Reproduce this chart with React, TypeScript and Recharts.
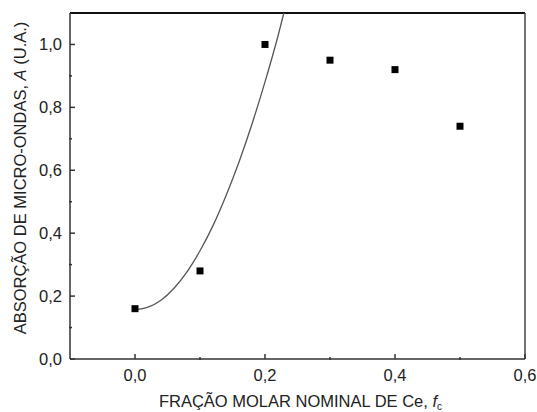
import { ComposedChart, Scatter, Line, XAxis, YAxis, ZAxis, ReferenceLine, Label } from 'recharts';

const fractions = [0.0, 0.1, 0.2, 0.3, 0.4, 0.5];
const absorption = [0.16, 0.28, 1.0, 0.95, 0.92, 0.74];

const fitX = [0, 0.02, 0.04, 0.06, 0.08, 0.1, 0.12, 0.14, 0.16, 0.18, 0.2, 0.22, 0.229];
const fitY = [0.157, 0.165, 0.187, 0.225, 0.277, 0.344, 0.424, 0.519, 0.626, 0.747, 0.881, 1.027, 1.1];

const xMajorTicks = [0, 0.2, 0.4, 0.6];
const xMinorTicks = [0.1, 0.3, 0.5];
const yMajorTicks = [0, 0.2, 0.4, 0.6, 0.8, 1.0];
const yMinorTicks = [0.1, 0.3, 0.5, 0.7, 0.9];

const points = fractions.map((x, i) => ({ x, y: absorption[i] }));
const fit = fitX.map((x, i) => ({ x, y: fitY[i] }));

const fmt = (v: number) => v.toFixed(1).replace('.', ',');
const axisColor = '#333';
const font = '"Liberation Sans", Arial, sans-serif';

// ticks point into the plot, labels sit outside
const BottomTick = ({ x, y, payload, minor }: any) => (
  <g>
    <line x1={x} x2={x} y1={y} y2={y - (minor ? 3 : 5)} stroke={axisColor} strokeWidth={1.5} />
    {!minor && (
      <text x={x} y={y + 22} textAnchor="middle" fill="#222" fontSize={16.5} fontFamily={font}>
        {fmt(payload.value)}
      </text>
    )}
  </g>
);

const LeftTick = ({ x, y, payload, minor }: any) => (
  <g>
    <line x1={x} x2={x + (minor ? 3 : 5)} y1={y} y2={y} stroke={axisColor} strokeWidth={1.5} />
    {!minor && (
      <text x={x - 8} y={y + 6} textAnchor="end" fill="#222" fontSize={16.5} fontFamily={font}>
        {fmt(payload.value)}
      </text>
    )}
  </g>
);

export default function App() {
  return (
    <div style={{ width: 537, height: 412, background: '#fff' }}>
      <style>{'body{margin:0}'}</style>
      <ComposedChart width={537} height={412} margin={{ top: 13, right: 12, bottom: 51, left: 68 }} style={{ fontFamily: font }}>
        <XAxis
          type="number"
          dataKey="x"
          domain={[-0.1, 0.6]}
          allowDataOverflow
          ticks={xMajorTicks}
          height={1}
          tickSize={0}
          tickMargin={0}
          tickLine={false}
          stroke={axisColor}
          strokeWidth={1.5}
          tick={<BottomTick />}
          label={
            <Label
              content={({ viewBox }: any) => (
                <text x={viewBox.x + viewBox.width / 2 + 3} y={viewBox.y + 48} textAnchor="middle" fill="#222" fontSize={16.5} fontFamily={font}>
                  FRAÇÃO MOLAR NOMINAL DE Ce, <tspan fontStyle="italic">f</tspan>
                  <tspan fontSize={10} dy={3}>c</tspan>
                </text>
              )}
            />
          }
        />
        <XAxis
          xAxisId="minor"
          type="number"
          dataKey="x"
          domain={[-0.1, 0.6]}
          allowDataOverflow
          ticks={xMinorTicks}
          height={1}
          tickSize={0}
          tickMargin={0}
          tickLine={false}
          axisLine={false}
          tick={<BottomTick minor />}
        />
        <YAxis
          type="number"
          dataKey="y"
          domain={[0, 1.1]}
          allowDataOverflow
          ticks={yMajorTicks}
          width={1}
          tickSize={0}
          tickMargin={0}
          tickLine={false}
          stroke={axisColor}
          strokeWidth={1.5}
          tick={<LeftTick />}
          label={
            <Label
              content={({ viewBox }: any) => {
                const cx = 20;
                const cy = viewBox.y + viewBox.height / 2 - 8;
                return (
                  <text x={cx} y={cy} transform={`rotate(-90 ${cx} ${cy})`} textAnchor="middle" dominantBaseline="central" fill="#222" fontSize={16.5} fontFamily={font}>
                    ABSORÇÃO DE MICRO-ONDAS, <tspan fontStyle="italic">A</tspan> (U.A.)
                  </text>
                );
              }}
            />
          }
        />
        <YAxis
          yAxisId="minor"
          type="number"
          dataKey="y"
          domain={[0, 1.1]}
          allowDataOverflow
          ticks={yMinorTicks}
          width={1}
          tickSize={0}
          tickMargin={0}
          tickLine={false}
          axisLine={false}
          tick={<LeftTick minor />}
        />
        <ZAxis range={[49, 49]} />
        <ReferenceLine y={1.1} stroke="#111" strokeWidth={2} ifOverflow="visible" />
        <ReferenceLine x={0.6} stroke="#444" strokeWidth={1.5} ifOverflow="visible" />
        <Line
          data={fit}
          dataKey="y"
          type="monotone"
          stroke="#555"
          strokeWidth={1.3}
          dot={false}
          isAnimationActive={false}
        />
        <Scatter data={points} dataKey="y" fill="#000" shape="square" isAnimationActive={false} />
      </ComposedChart>
    </div>
  );
}
